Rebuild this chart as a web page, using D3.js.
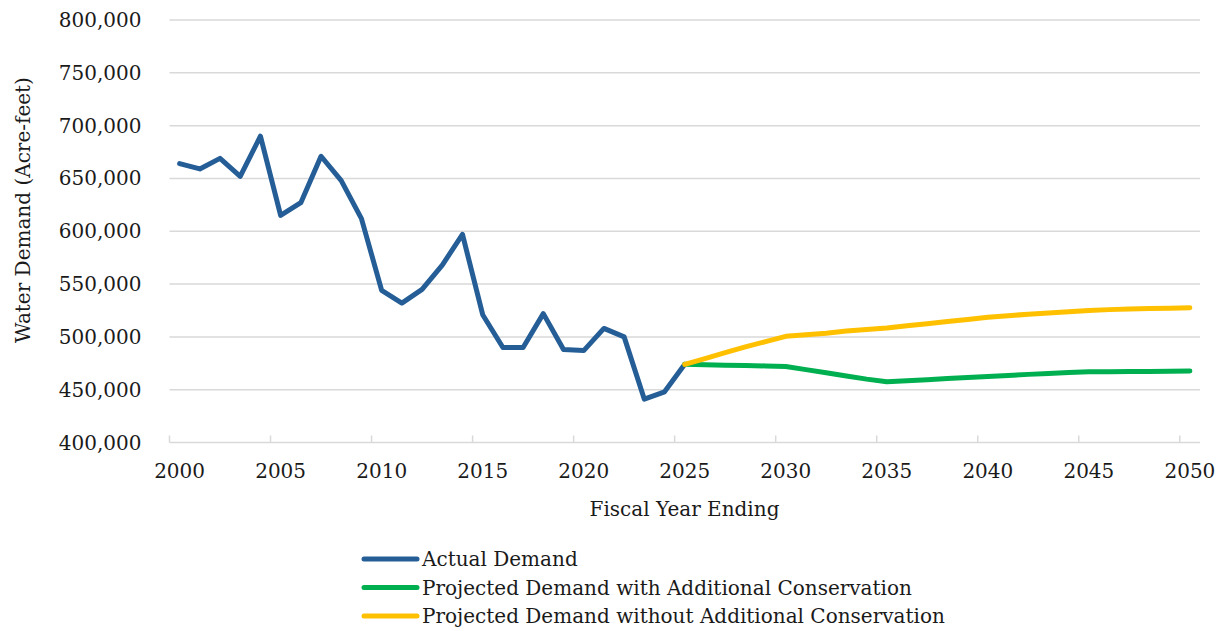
<!DOCTYPE html>
<html>
<head>
<meta charset="utf-8">
<script src="https://cdn.jsdelivr.net/npm/d3@7"></script>
<style>
  html, body { margin: 0; padding: 0; background: #ffffff; }
  svg { display: block; }
  text { font-family: "DejaVu Serif", serif; fill: #1a1a1a; }
</style>
</head>
<body>
<svg id="chart" width="1222" height="631"></svg>
<script>
// Fiscal years on the category axis
const years = d3.range(2000, 2051);

// Actual demand, FY2000–FY2025 (acre-feet)
const actualYears = d3.range(2000, 2026);
const actualDemand = [
  664000, 659000, 669000, 652000, 690000, 615000, 627000, 671000, 648000, 612000,
  544000, 532000, 545000, 568000, 597000, 521000, 490000, 490000, 522000, 488000,
  487000, 508000, 500000, 441000, 448000, 474000
];

// Projections, FY2025–FY2050 (acre-feet)
const projYears = d3.range(2025, 2051);
const withConservation = [
  474000, 473600, 473200, 472800, 472500, 472000, 469000, 466000, 463000, 460000,
  457500, 458500, 459500, 460500, 461500, 462500, 463500, 464500, 465300, 466200,
  467000, 467100, 467200, 467300, 467500, 467700
];
const withoutConservation = [
  474000, 479500, 485000, 490500, 495500, 500500, 502000, 503500, 505500, 507000,
  508500, 510500, 512500, 514500, 516500, 518500, 520000, 521500, 522700, 523800,
  525000, 525800, 526400, 526800, 527200, 527600
];

const yTicks = [400000, 450000, 500000, 550000, 600000, 650000, 700000, 750000, 800000];
const xTickYears = [2000, 2005, 2010, 2015, 2020, 2025, 2030, 2035, 2040, 2045, 2050];

const seriesNames = [
  "Actual Demand",
  "Projected Demand with Additional Conservation",
  "Projected Demand without Additional Conservation"
];
const seriesColors = ["#255e96", "#00b050", "#ffc000"];

const svg = d3.select("#chart");
const plot = { left: 169.5, right: 1200, top: 20, bottom: 442.5 };

const x = d3.scaleBand().domain(years).range([plot.left, plot.right]).padding(0);
const cx = yr => x(yr) + x.bandwidth() / 2;
const y = d3.scaleLinear().domain([400000, 800000]).range([plot.bottom, plot.top]);

// Horizontal gridlines
svg.append("g")
  .selectAll("line")
  .data(yTicks)
  .join("line")
  .attr("x1", plot.left)
  .attr("x2", plot.right)
  .attr("y1", d => y(d))
  .attr("y2", d => y(d))
  .attr("stroke", "#d9d9d9")
  .attr("stroke-width", 1.5);

// Y axis labels
const fmt = d3.format(",");
svg.append("g")
  .selectAll("text")
  .data(yTicks)
  .join("text")
  .attr("x", 141.5)
  .attr("y", d => y(d) + 7)
  .attr("text-anchor", "end")
  .attr("font-size", 20)
  .text(d => fmt(d));

// X axis tick marks at the start of each fifth category
svg.append("g")
  .selectAll("line")
  .data(xTickYears)
  .join("line")
  .attr("x1", d => x(d))
  .attr("x2", d => x(d))
  .attr("y1", plot.bottom)
  .attr("y2", plot.bottom - 7)
  .attr("stroke", "#d9d9d9")
  .attr("stroke-width", 1.5);

// X axis labels centred on their category
svg.append("g")
  .selectAll("text")
  .data(xTickYears)
  .join("text")
  .attr("x", d => cx(d))
  .attr("y", 478)
  .attr("text-anchor", "middle")
  .attr("font-size", 20)
  .text(d => d);

// Axis titles
svg.append("text")
  .attr("x", 684.5)
  .attr("y", 516)
  .attr("text-anchor", "middle")
  .attr("font-size", 20)
  .text("Fiscal Year Ending");

svg.append("text")
  .attr("transform", "translate(30,210) rotate(-90)")
  .attr("text-anchor", "middle")
  .attr("font-size", 20)
  .text("Water Demand (Acre-feet)");

// Series lines
const line = d3.line()
  .x(d => cx(d[0]))
  .y(d => y(d[1]))
  .curve(d3.curveLinear);

const seriesData = [
  d3.zip(actualYears, actualDemand),
  d3.zip(projYears, withConservation),
  d3.zip(projYears, withoutConservation)
];

svg.append("g")
  .selectAll("path")
  .data(seriesData)
  .join("path")
  .attr("d", line)
  .attr("fill", "none")
  .attr("stroke", (d, i) => seriesColors[i])
  .attr("stroke-width", 5)
  .attr("stroke-linejoin", "round")
  .attr("stroke-linecap", "round");

// Legend
const legend = svg.append("g").attr("transform", "translate(362,559)");
const rows = legend.selectAll("g")
  .data(seriesNames)
  .join("g")
  .attr("transform", (d, i) => `translate(0,${i * 28.5})`);
rows.append("line")
  .attr("x1", 2)
  .attr("x2", 55)
  .attr("stroke", (d, i) => seriesColors[i])
  .attr("stroke-width", 5)
  .attr("stroke-linecap", "round");
rows.append("text")
  .attr("x", 60)
  .attr("y", 7)
  .attr("font-size", 20)
  .text(d => d);
</script>
</body>
</html>
